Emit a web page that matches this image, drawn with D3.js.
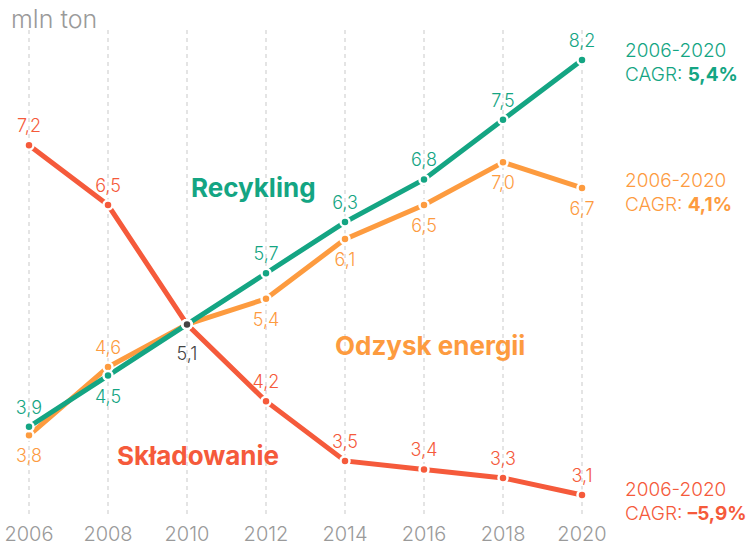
<!DOCTYPE html>
<html lang="pl">
<head>
<meta charset="utf-8">
<script src="https://d3js.org/d3.v7.min.js"></script>
<style>
body { margin: 0; background: #fff; }
svg text { font-family: Inter, "Open Sans", sans-serif; }
.grid line { stroke: #d6d6d6; stroke-width: 1.3; stroke-dasharray: 4,4; }
.year { fill: #9a9a9a; font-size: 20px; font-weight: 300; text-anchor: middle; }
.val { font-size: 18px; font-weight: 300; text-anchor: middle; }
.name { font-size: 26px; font-weight: 700; }
.note { font-size: 19px; font-weight: 300; }
</style>
</head>
<body>
<svg width="752" height="547"></svg>
<script>
var years = [2006, 2008, 2010, 2012, 2014, 2016, 2018, 2020];
var recykling = [3.9, 4.5, 5.1, 5.7, 6.3, 6.8, 7.5, 8.2];
var odzysk = [3.8, 4.6, 5.1, 5.4, 6.1, 6.5, 7.0, 6.7];
var skladowanie = [7.2, 6.5, 5.1, 4.2, 3.5, 3.4, 3.3, 3.1];
var cagr = ["5,4%", "4,1%", "-5,9%"];

// label placement: 1 = above point, -1 = below, 0 = none
var recPos = [1, -1, 0, 1, 1, 1, 1, 1];
var odzPos = [-1, 1, 0, -1, -1, -1, -1, -1];
var sklPos = [1, 1, 0, 1, 1, 1, 1, 1];

var svg = d3.select("svg");

var x = d3.scalePoint().domain(years).range([29, 582]);
var y = d3.scaleLinear().domain([3.1, 8.2]).range([495, 60]);

var fmt = function(v) { return d3.format(".1f")(v).replace(".", ","); };

// dotted vertical grid
svg.append("g").attr("class", "grid")
  .selectAll("line").data(years).enter().append("line")
    .attr("x1", function(d) { return x(d); })
    .attr("x2", function(d) { return x(d); })
    .attr("y1", 30).attr("y2", 518);

// year labels
svg.selectAll(".year").data(years).enter().append("text")
  .attr("class", "year")
  .attr("x", function(d) { return x(d); })
  .attr("y", 541)
  .text(function(d) { return d; });

svg.append("text")
  .attr("x", 11).attr("y", 28)
  .attr("fill", "#9a9a9a")
  .style("font-size", "25px").style("font-weight", 300)
  .text("mln ton");

var series = [
  {name: "Odzysk energii", values: odzysk, pos: odzPos, color: "#fd9b3f", lx: 335, ly: 355, cagr: cagr[1], ny: 187},
  {name: "Recykling", values: recykling, pos: recPos, color: "#14a583", lx: 191, ly: 197, cagr: cagr[0], ny: 57},
  {name: "Składowanie", values: skladowanie, pos: sklPos, color: "#f55a3b", lx: 117, ly: 465, cagr: cagr[2], ny: 496}
];

var line = d3.line()
  .x(function(d, i) { return x(years[i]); })
  .y(function(d) { return y(d); });

series.forEach(function(s) {
  svg.append("path")
    .attr("d", line(s.values))
    .attr("fill", "none")
    .attr("stroke", s.color)
    .attr("stroke-width", 5);
});

series.forEach(function(s) {
  var g = svg.append("g");
  g.selectAll("circle").data(s.values).enter().append("circle")
    .attr("cx", function(d, i) { return x(years[i]); })
    .attr("cy", function(d) { return y(d); })
    .attr("r", 4.5)
    .attr("fill", s.color)
    .attr("stroke", "#fff")
    .attr("stroke-width", 2.5);

  g.selectAll("text.val").data(s.values).enter()
    .filter(function(d, i) { return s.pos[i] !== 0; })
    .append("text")
    .attr("class", "val")
    .attr("fill", s.color)
    .attr("x", function(d) { return x(years[s.values.indexOf(d)]); })
    .attr("y", function(d) {
      var i = s.values.indexOf(d);
      return y(d) + (s.pos[i] > 0 ? -13 : 27);
    })
    .text(fmt);

  svg.append("text")
    .attr("class", "name")
    .attr("fill", s.color)
    .attr("x", s.lx).attr("y", s.ly)
    .text(s.name);

  var note = svg.append("text").attr("class", "note").attr("fill", s.color);
  note.append("tspan").attr("x", 625).attr("y", s.ny).text("2006-2020");
  note.append("tspan").attr("x", 625).attr("y", s.ny + 24).text("CAGR: ");
  note.append("tspan").attr("font-weight", 700).text(s.cagr.replace("-", "\u2013"));
});

// common point in 2010
svg.append("circle")
  .attr("cx", x(2010)).attr("cy", y(5.1))
  .attr("r", 4.5).attr("fill", "#444")
  .attr("stroke", "#fff").attr("stroke-width", 2.5);
svg.append("text")
  .attr("class", "val").attr("fill", "#444")
  .attr("x", x(2010)).attr("y", y(5.1) + 36)
  .text(fmt(5.1));
</script>
</body>
</html>
